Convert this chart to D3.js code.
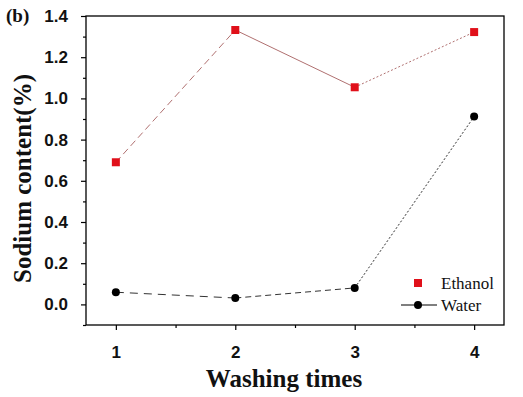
<!DOCTYPE html>
<html><head><meta charset="utf-8">
<script src="https://cdn.jsdelivr.net/npm/d3@7"></script>
<style>body{margin:0;background:#fff;}svg{display:block;}</style>
</head><body>
<svg id="c" width="523" height="397"></svg>
<script>
const washes = [1, 2, 3, 4];
const ethanol = [0.69, 1.332, 1.054, 1.322];
const water = [0.059, 0.031, 0.080, 0.912];
const yTicks = [0.0, 0.2, 0.4, 0.6, 0.8, 1.0, 1.2, 1.4];
const yMinor = [-0.1, 0.1, 0.3, 0.5, 0.7, 0.9, 1.1, 1.3];
const xMinor = [1.5, 2.5, 3.5];
const ethanolDash = ["7,4", null, "2,2"];
const waterDash = ["8,6", "6,4", "2,2"];

const svg = d3.select("#c");
const L = 86, R = 504, T = 16, B = 325;
const x = d3.scaleLinear().domain([0.75, 4.25]).range([L, R]);
const y = d3.scaleLinear().domain([-0.1, 1.4]).range([B, T]);

svg.append("rect").attr("x", L).attr("y", T).attr("width", R - L).attr("height", B - T)
  .attr("fill", "none").attr("stroke", "#000").attr("stroke-width", 1.3);

const yAx = svg.append("g").attr("transform", `translate(${L},0)`)
  .call(d3.axisLeft(y).tickValues(yTicks).tickSize(5).tickPadding(13).tickFormat(d3.format(".1f")));
const yAxM = svg.append("g").attr("transform", `translate(${L},0)`)
  .call(d3.axisLeft(y).tickValues(yMinor).tickSize(3).tickFormat(""));
const xAx = svg.append("g").attr("transform", `translate(0,${B})`)
  .call(d3.axisBottom(x).tickValues(washes).tickSize(5).tickPadding(16).tickFormat(d3.format("d")));
const xAxM = svg.append("g").attr("transform", `translate(0,${B})`)
  .call(d3.axisBottom(x).tickValues(xMinor).tickSize(3).tickFormat(""));
[yAx, yAxM, xAx, xAxM].forEach(g => {
  g.select(".domain").remove();
  g.selectAll("line").attr("stroke", "#000").attr("stroke-width", 1.2);
  g.selectAll("text").attr("font-family", "Liberation Sans, Arial, sans-serif")
    .attr("font-weight", "bold").attr("font-size", 17).attr("fill", "#111");
});

function segs(vals, dashes, color) {
  for (let i = 0; i < vals.length - 1; i++) {
    const ln = svg.append("line")
      .attr("x1", x(washes[i])).attr("y1", y(vals[i]))
      .attr("x2", x(washes[i + 1])).attr("y2", y(vals[i + 1]))
      .attr("stroke", color).attr("stroke-width", 1);
    if (dashes[i]) ln.attr("stroke-dasharray", dashes[i]);
  }
}
segs(ethanol, ethanolDash, "#b07070");
segs(water, waterDash, "#333");

svg.selectAll(".eth").data(ethanol).enter().append("rect")
  .attr("x", (d, i) => x(washes[i]) - 4).attr("y", d => y(d) - 4)
  .attr("width", 8).attr("height", 8).attr("fill", "#e0101a");
svg.selectAll(".wat").data(water).enter().append("circle")
  .attr("cx", (d, i) => x(washes[i])).attr("cy", d => y(d)).attr("r", 4).attr("fill", "#000");

const lg = svg.append("g");
lg.append("rect").attr("x", 414).attr("y", 279).attr("width", 8).attr("height", 8).attr("fill", "#e0101a");
lg.append("text").attr("x", 441).attr("y", 289).text("Ethanol");
lg.append("line").attr("x1", 401).attr("x2", 437).attr("y1", 305).attr("y2", 305).attr("stroke", "#000").attr("stroke-width", 1.2);
lg.append("circle").attr("cx", 418).attr("cy", 305).attr("r", 4).attr("fill", "#000");
lg.append("text").attr("x", 441).attr("y", 311).text("Water");
lg.selectAll("text").attr("font-family", "Liberation Serif, Times New Roman, serif").attr("font-size", 17).attr("fill", "#111");

svg.append("text").attr("x", 284).attr("y", 387).attr("text-anchor", "middle")
  .attr("font-family", "Liberation Serif, Times New Roman, serif").attr("font-weight", "bold")
  .attr("font-size", 25).attr("fill", "#111").text("Washing times");
svg.append("text").attr("transform", `translate(31,${(T + B) / 2 + 8}) rotate(-90)`).attr("text-anchor", "middle")
  .attr("font-family", "Liberation Serif, Times New Roman, serif").attr("font-weight", "bold")
  .attr("font-size", 25).attr("fill", "#111").text("Sodium content(%)");
svg.append("text").attr("x", 6).attr("y", 22)
  .attr("font-family", "Liberation Serif, Times New Roman, serif").attr("font-weight", "bold")
  .attr("font-size", 19).attr("fill", "#111").text("(b)");
</script>
</body></html>
